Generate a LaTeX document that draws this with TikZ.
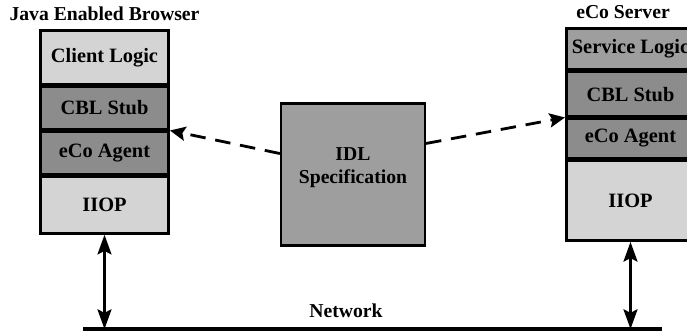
\documentclass[tikz,border=0pt]{standalone}
\usepackage{fontspec}
\setmainfont{Liberation Serif}
\usetikzlibrary{positioning,arrows.meta}
\colorlet{paleshade}{black!17}
\colorlet{midshade}{black!38}
\colorlet{darkshade}{black!45}
\tikzset{
	layer/.style={draw, line width=1.8pt, minimum width=3.21cm, inner sep=0pt, font=\bfseries\fontsize{14.5}{16.3}\selectfont},
	lbl/.style={inner sep=0pt, font=\bfseries\fontsize{14}{16.3}\selectfont},
	idlarrow/.style={line width=2pt, dash pattern=on 11pt off 7pt, -{Stealth[length=11pt,width=10pt,inset=2pt]}},
	netarrow/.style={line width=1.7pt, {Stealth[length=14pt,width=10pt,inset=2.5pt]}-{Stealth[length=14pt,width=10pt,inset=2.5pt]}}
}
\begin{document}
\begin{tikzpicture}[x=0.025cm, y=0.025cm]
			%%%%% START %%%%%
			\useasboundingbox (0,0) rectangle (687,335);
			
			\node[lbl] (browser) at (104.5,321.5) {Java Enabled Browser};
			\node[layer, fill=paleshade, minimum height=1.35cm, anchor=north] (lclient) at (104.5,306) {Client Logic};
			\node[layer, fill=darkshade, minimum height=1.06cm, below=0pt of lclient] (lcbl) {CBL Stub};
			\node[layer, fill=darkshade, minimum height=1.06cm, below=0pt of lcbl] (leco) {eCo Agent};
			\node[layer, fill=paleshade, minimum height=1.42cm, below=0pt of leco] (liiop) {IIOP};
			
			\node[lbl] (server) at (623,323) {eCo Server};
			\node[layer, fill=midshade, minimum height=1.035cm, anchor=north] (rservice) at (630.5,308) {Service Logic};
			\node[layer, fill=darkshade, minimum height=1.1cm, below=0pt of rservice] (rcbl) {CBL Stub};
			\node[layer, fill=darkshade, minimum height=0.985cm, below=0pt of rcbl] (reco) {eCo Agent};
			\node[layer, fill=paleshade, minimum height=2cm, below=0pt of reco] (riiop) {IIOP};
			
			\node[layer, fill=midshade, minimum width=3.59cm, minimum height=3.56cm] (idl) at (353,160.5) {};
			\node[lbl, align=center] (idltext) at (353,167.5) {IDL\\Specification};
			
			\draw[idlarrow] (idl.164) -- (leco.north east);
			\draw[idlarrow] (idl.23) -- (reco.north west);
			
			\coordinate (netwest) at (83,6);
			\coordinate (neteast) at (662,6);
			\draw[line width=3.5pt] (netwest) -- (neteast);
			\node[lbl] (netlabel) at (346,24) {Network};
			
			\draw[netarrow] (liiop.south) -- (liiop.south |- netwest);
			\draw[netarrow] (riiop.south) -- (riiop.south |- neteast);
			
			%%%%% END %%%%%
\end{tikzpicture}
\end{document}
